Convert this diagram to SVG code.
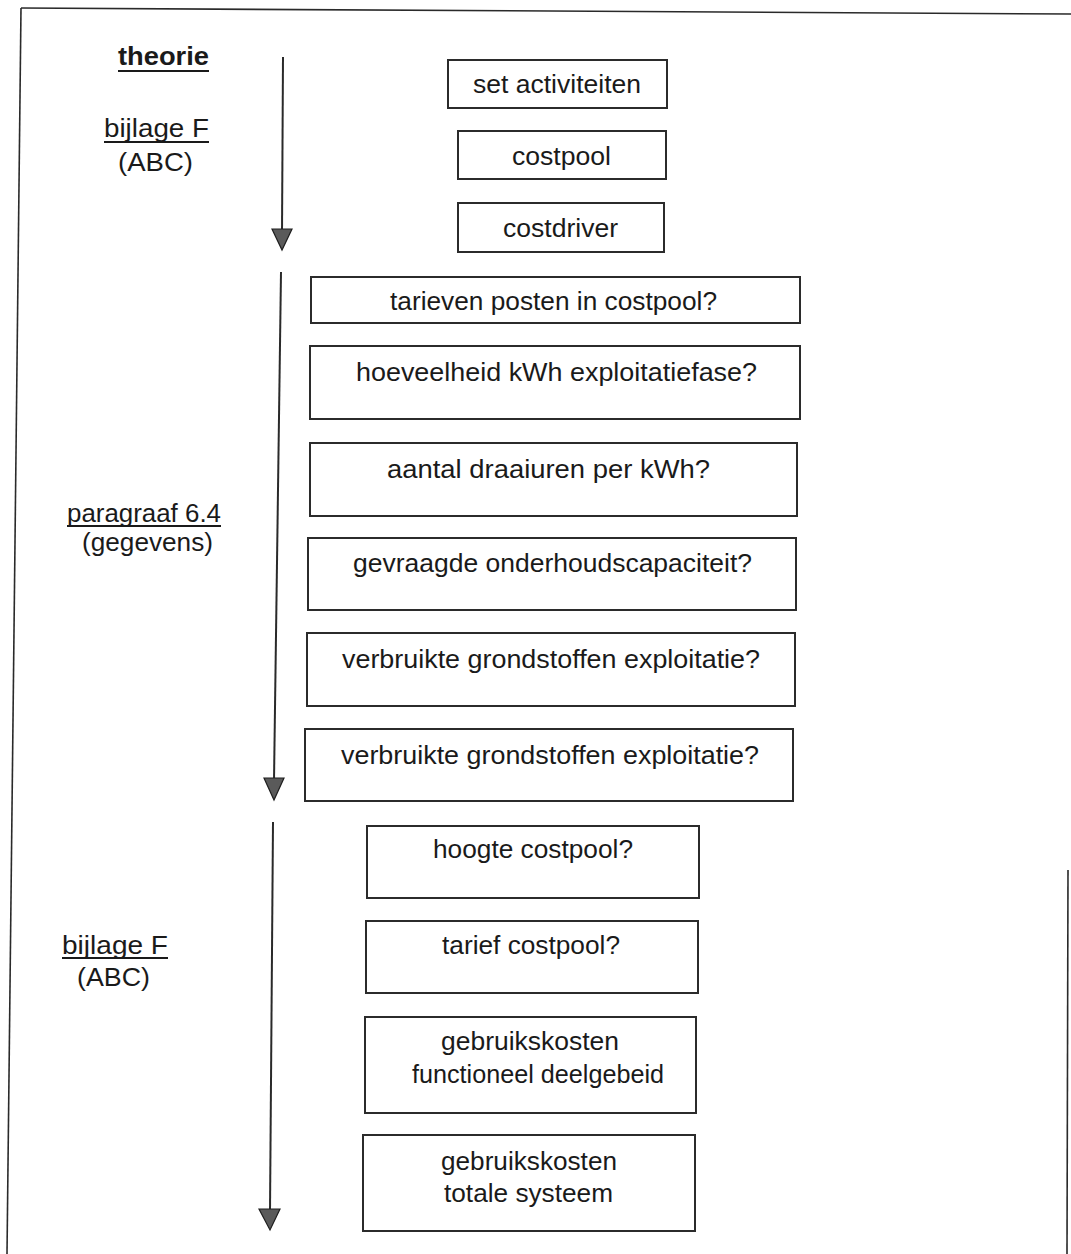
<svg xmlns="http://www.w3.org/2000/svg" width="1071" height="1254" viewBox="0 0 1071 1254">
  <style>
    .page { fill: none; stroke: #2a2a2a; stroke-width: 1.6; }
    .box rect { fill: #ffffff; stroke: #2b2b2b; stroke-width: 2; }
    .box text, .label text { font-family: "Liberation Sans", Arial, Helvetica, sans-serif; font-size: 26px; fill: #1a1a1a; }
    .box text { text-anchor: middle; }
    .label text.bold { font-weight: bold; }
    .uline { stroke: #1a1a1a; stroke-width: 1.8; }
    .flow line { stroke: #2a2a2a; stroke-width: 2; }
    .flow polygon { fill: #5a5a5a; stroke: #1e1e1e; stroke-width: 1.2; }
  </style>

  <rect width="1071" height="1254" fill="#ffffff"/>

  <!-- page frame -->
  <g id="frame">
    <line class="page" x1="21" y1="8" x2="1071" y2="14"/>
    <line class="page" x1="21" y1="8" x2="7" y2="1254"/>
    <line class="page" x1="1068" y1="870" x2="1067" y2="1254"/>
  </g>

  <!-- section labels -->
  <g id="label-theorie" class="label">
    <text class="bold" x="118" y="65" textLength="91" lengthAdjust="spacingAndGlyphs">theorie</text>
    <line class="uline" x1="118" y1="71" x2="209" y2="71"/>
  </g>
  <g id="label-bijlage-f-1" class="label">
    <text x="104" y="137" textLength="105" lengthAdjust="spacingAndGlyphs">bijlage F</text>
    <line class="uline" x1="104" y1="142" x2="209" y2="142"/>
    <text x="118" y="171" textLength="75" lengthAdjust="spacingAndGlyphs">(ABC)</text>
  </g>
  <g id="label-paragraaf" class="label">
    <text x="67" y="522" textLength="154" lengthAdjust="spacingAndGlyphs">paragraaf 6.4</text>
    <line class="uline" x1="67" y1="526" x2="221" y2="526"/>
    <text x="82" y="551" textLength="131" lengthAdjust="spacingAndGlyphs">(gegevens)</text>
  </g>
  <g id="label-bijlage-f-2" class="label">
    <text x="62" y="954" textLength="106" lengthAdjust="spacingAndGlyphs">bijlage F</text>
    <line class="uline" x1="62" y1="958" x2="168" y2="958"/>
    <text x="77" y="986" textLength="73" lengthAdjust="spacingAndGlyphs">(ABC)</text>
  </g>

  <!-- downward flow arrows -->
  <g id="connectors" class="flow">
    <line x1="283" y1="57" x2="282" y2="232"/>
    <polygon points="272,229 292,229 282,250"/>
    <line x1="281" y1="272" x2="274" y2="781"/>
    <polygon points="264,778 284,778 274,800"/>
    <line x1="273" y1="822" x2="270" y2="1212"/>
    <polygon points="259,1209 280,1209 270,1230"/>
  </g>

  <!-- boxes -->
  <g id="n-set-activiteiten" class="box">
    <rect x="448" y="60" width="219" height="48"/>
    <text x="557" y="93" textLength="168" lengthAdjust="spacingAndGlyphs">set activiteiten</text>
  </g>
  <g id="n-costpool" class="box">
    <rect x="458" y="131" width="208" height="48"/>
    <text x="561.5" y="165" textLength="99" lengthAdjust="spacingAndGlyphs">costpool</text>
  </g>
  <g id="n-costdriver" class="box">
    <rect x="458" y="203" width="206" height="49"/>
    <text x="560.5" y="237" textLength="115" lengthAdjust="spacingAndGlyphs">costdriver</text>
  </g>
  <g id="n-tarieven" class="box">
    <rect x="311" y="277" width="489" height="46"/>
    <text x="553.5" y="310" textLength="327" lengthAdjust="spacingAndGlyphs">tarieven posten in costpool?</text>
  </g>
  <g id="n-hoeveelheid" class="box">
    <rect x="310" y="346" width="490" height="73"/>
    <text x="556.5" y="381" textLength="401" lengthAdjust="spacingAndGlyphs">hoeveelheid kWh exploitatiefase?</text>
  </g>
  <g id="n-draaiuren" class="box">
    <rect x="310" y="443" width="487" height="73"/>
    <text x="548.5" y="478" textLength="323" lengthAdjust="spacingAndGlyphs">aantal draaiuren per kWh?</text>
  </g>
  <g id="n-onderhoud" class="box">
    <rect x="308" y="538" width="488" height="72"/>
    <text x="552.5" y="572" textLength="399" lengthAdjust="spacingAndGlyphs">gevraagde onderhoudscapaciteit?</text>
  </g>
  <g id="n-grondstoffen-1" class="box">
    <rect x="307" y="633" width="488" height="73"/>
    <text x="551" y="668" textLength="418" lengthAdjust="spacingAndGlyphs">verbruikte grondstoffen exploitatie?</text>
  </g>
  <g id="n-grondstoffen-2" class="box">
    <rect x="305" y="729" width="488" height="72"/>
    <text x="550" y="764" textLength="418" lengthAdjust="spacingAndGlyphs">verbruikte grondstoffen exploitatie?</text>
  </g>
  <g id="n-hoogte" class="box">
    <rect x="367" y="826" width="332" height="72"/>
    <text x="533" y="858" textLength="200" lengthAdjust="spacingAndGlyphs">hoogte costpool?</text>
  </g>
  <g id="n-tarief" class="box">
    <rect x="366" y="921" width="332" height="72"/>
    <text x="531" y="954" textLength="178" lengthAdjust="spacingAndGlyphs">tarief costpool?</text>
  </g>
  <g id="n-gebruik-deelgebied" class="box">
    <rect x="365" y="1017" width="331" height="96"/>
    <text x="530" y="1050" textLength="178" lengthAdjust="spacingAndGlyphs">gebruikskosten</text>
    <text x="538" y="1083" textLength="252" lengthAdjust="spacingAndGlyphs">functioneel deelgebeid</text>
  </g>
  <g id="n-gebruik-totaal" class="box">
    <rect x="363" y="1135" width="332" height="96"/>
    <text x="529" y="1170" textLength="176" lengthAdjust="spacingAndGlyphs">gebruikskosten</text>
    <text x="528.5" y="1202" textLength="169" lengthAdjust="spacingAndGlyphs">totale systeem</text>
  </g>
</svg>
